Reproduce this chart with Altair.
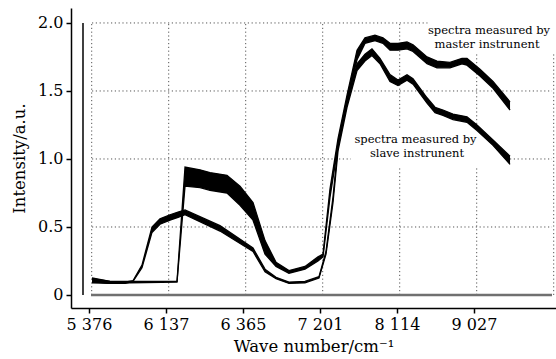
import altair as alt
import pandas as pd

# x positions are in tick units: 0..5 correspond to the labelled ticks
tick_labels = ["5 376", "6 137", "6 365", "7 201", "8 114", "9 027"]

master_x = [0.039, 0.273, 0.532, 1.143, 1.247, 1.442, 1.571, 1.792, 1.961, 2.130, 2.286, 2.429,
            2.597, 2.805, 2.974, 3.039, 3.130, 3.234, 3.351, 3.481, 3.584, 3.714, 3.818, 3.909,
            4.013, 4.130, 4.208, 4.390, 4.519, 4.688, 4.844, 4.909, 5.078, 5.247, 5.468]
master_lo = [0.09, 0.085, 0.09, 0.095, 0.80, 0.79, 0.77, 0.75, 0.66, 0.55, 0.30, 0.21,
             0.16, 0.19, 0.25, 0.28, 0.72, 1.09, 1.41, 1.73, 1.85, 1.87, 1.85, 1.80,
             1.80, 1.81, 1.79, 1.70, 1.67, 1.67, 1.70, 1.69, 1.61, 1.52, 1.36]
master_hi = [0.12, 0.10, 0.10, 0.10, 0.94, 0.92, 0.90, 0.88, 0.80, 0.68, 0.40, 0.24,
             0.18, 0.21, 0.28, 0.30, 0.78, 1.15, 1.47, 1.80, 1.89, 1.91, 1.89, 1.85,
             1.85, 1.86, 1.84, 1.75, 1.72, 1.71, 1.74, 1.74, 1.66, 1.57, 1.42]

slave_x = [0.039, 0.273, 0.468, 0.571, 0.688, 0.818, 0.922, 1.052, 1.156, 1.247, 1.701, 2.130,
           2.286, 2.429, 2.597, 2.805, 2.987, 3.078, 3.169, 3.234, 3.351, 3.481, 3.584, 3.675,
           3.779, 3.909, 4.013, 4.130, 4.208, 4.390, 4.494, 4.597, 4.727, 4.909, 5.039, 5.247, 5.468]
slave_lo = [0.10, 0.085, 0.085, 0.10, 0.20, 0.46, 0.52, 0.55, 0.57, 0.59, 0.47, 0.32,
            0.17, 0.12, 0.085, 0.09, 0.125, 0.30, 0.68, 1.06, 1.38, 1.65, 1.72, 1.76,
            1.70, 1.57, 1.54, 1.58, 1.55, 1.41, 1.34, 1.32, 1.29, 1.27, 1.21, 1.10, 0.96]
slave_hi = [0.125, 0.10, 0.095, 0.105, 0.22, 0.50, 0.56, 0.59, 0.61, 0.625, 0.51, 0.345,
            0.19, 0.13, 0.095, 0.10, 0.135, 0.32, 0.72, 1.10, 1.42, 1.70, 1.77, 1.81,
            1.74, 1.62, 1.58, 1.62, 1.59, 1.45, 1.38, 1.36, 1.33, 1.31, 1.25, 1.14, 1.02]

y_ticks = [0, 0.5, 1.0, 1.5, 2.0]

FONT = "DejaVu Serif"

label_js = "[" + ",".join("'%s'" % s for s in tick_labels) + "][datum.value]"

X = alt.X("x:Q",
          scale=alt.Scale(domain=[-0.2338, 6.065], nice=False, zero=False),
          axis=alt.Axis(values=list(range(len(tick_labels))), labelExpr=label_js,
                        title="Wave number/cm⁻¹", grid=False,
                        domainColor="black", domainWidth=1.5, tickColor="black",
                        tickWidth=1.5, tickSize=5, labelFont=FONT, labelFontSize=16,
                        labelColor="black", labelPadding=3, titleFont=FONT,
                        titleFontSize=16.5, titleFontWeight="normal", titleColor="black",
                        titlePadding=6))
Y = alt.Y("y:Q",
          scale=alt.Scale(domain=[-0.0956, 2.11], nice=False, zero=False),
          axis=alt.Axis(values=y_ticks,
                        labelExpr="datum.value == 0 ? '0' : format(datum.value, '.1f')",
                        title="Intensity/a.u.", grid=False,
                        domainColor="black", domainWidth=1.5, tickColor="black",
                        tickWidth=1.5, tickSize=5, labelFont=FONT, labelFontSize=16,
                        labelColor="black", labelPadding=3, titleFont=FONT,
                        titleFontSize=16.5, titleFontWeight="normal", titleColor="black",
                        titlePadding=10))

m_df = pd.DataFrame({"x": master_x, "y": master_lo, "y2": master_hi})
s_df = pd.DataFrame({"x": slave_x, "y": slave_lo, "y2": slave_hi})

# grid
gx = [k + 0.035 for k in range(7)]
vgrid = alt.Chart(pd.DataFrame({"x": gx, "y": [0.0] * 7, "y2": [2.0] * 7})).mark_rule(
    color="#555", strokeDash=[1.2, 2.6], strokeWidth=1).encode(x=X, y=Y, y2="y2:Q")
hgrid = alt.Chart(pd.DataFrame({"y": y_ticks[1:], "x": [0.039] * 4, "x2": [6.013] * 4})).mark_rule(
    color="#555", strokeDash=[1.2, 2.6], strokeWidth=1).encode(x=X, x2="x2:Q", y=Y)

# inner frame lines
inner_v = alt.Chart(pd.DataFrame({"x": [-0.078], "y": [0.0], "y2": [2.0]})).mark_rule(
    color="black", strokeWidth=1.5).encode(x=X, y=Y, y2="y2:Q")
inner_h = alt.Chart(pd.DataFrame({"x": [0.026], "x2": [6.013], "y": [0.0]})).mark_rule(
    color="#707070", strokeWidth=2.5).encode(x=X, x2="x2:Q", y=Y)

# white backgrounds behind annotations
boxes = alt.Chart(pd.DataFrame({"x": [4.40, 3.40], "x2": [6.2, 5.45],
                                "y": [1.787, 0.949], "y2": [2.2, 1.228]})).mark_rect(
    color="white").encode(x=X, x2="x2:Q", y=Y, y2="y2:Q")


def band(df):
    area = alt.Chart(df).mark_area(color="black", opacity=1, interpolate="linear").encode(
        x=X, y=Y, y2="y2:Q")
    lo = alt.Chart(df).mark_line(color="black", strokeWidth=1.3).encode(x=X, y=Y)
    hi = alt.Chart(df).mark_line(color="black", strokeWidth=1.3).encode(
        x=X, y=alt.Y("y2:Q", scale=alt.Scale(domain=[-0.0956, 2.11], nice=False, zero=False)))
    return [area, lo, hi]


ann = pd.DataFrame({
    "x": [5.195, 5.169, 4.24, 4.26],
    "y": [1.919, 1.816, 1.118, 1.015],
    "t": ["spectra measured by", "master instrunent", "spectra measured by", "slave instrunent"],
})
text = alt.Chart(ann).mark_text(font=FONT, fontSize=11.5, color="black",
                                baseline="alphabetic", align="center").encode(
    x=X, y=Y, text="t:N")

chart = alt.layer(vgrid, hgrid, boxes, inner_v, inner_h, *band(s_df), *band(m_df), text).properties(
    width=485, height=300,
    padding={"left": 71, "top": 8, "right": 0, "bottom": 51},
    autosize=alt.AutoSizeParams(type="none"),
    background="white",
).configure_view(stroke=None)

chart.save("out.html", embed_options={"renderer": "svg", "actions": False})
